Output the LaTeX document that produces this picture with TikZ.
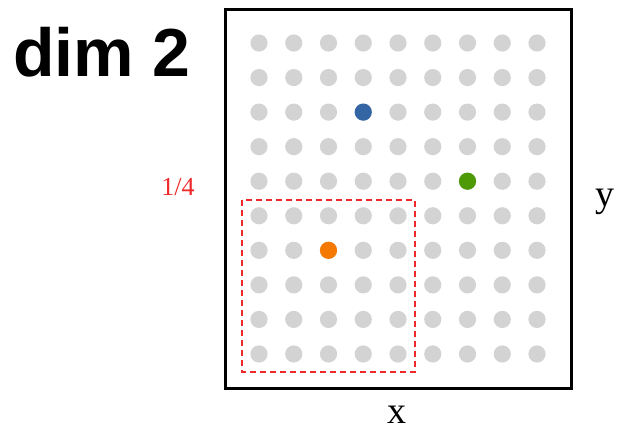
\documentclass[tikz,border=0pt]{standalone}
\usepackage{fontspec}
\setmainfont{Liberation Serif}
\newfontfamily\headfont{Liberation Sans}
\usepackage{xcolor}
\usetikzlibrary{positioning}

\definecolor{dotgray}{HTML}{D3D3D3}
\definecolor{dotblue}{HTML}{3465A4}
\definecolor{dotgreen}{HTML}{4E9A06}
\definecolor{dotorange}{HTML}{F57900}
\definecolor{boxred}{HTML}{EF2929}

\begin{document}
\begin{tikzpicture}[
			x=0.5pt,y=-0.5pt,
			dot/.style={circle,fill=dotgray,inner sep=0pt,minimum size=8.6pt},
			mark dot/.style={dot,fill=#1},
			axis label/.style={font=\fontsize{19}{22}\selectfont}
		]
		\useasboundingbox (0,0) rectangle (625,434);

		% frame and grid
		\draw[line width=1.5pt] (225,9) rectangle (571,388);
		\foreach \i in {0,...,8}
			\foreach \j in {0,...,9}
				\node[dot] (d-\i-\j) at (259+34.75*\i,43+34.55*\j) {};

		% picked points
		\node[mark dot=dotblue] (pblue) at (d-3-2) {};
		\node[mark dot=dotgreen] (pgreen) at (d-6-4) {};
		\node[mark dot=dotorange] (porange) at (d-2-6) {};

		% sub-region
		\draw[boxred,densely dashed,line width=0.6pt] (242,200) rectangle (415,372);

		\node[font=\headfont\bfseries\fontsize{34}{38}\selectfont] (title) at (102,52) {dim 2};
		\node[text=boxred,font=\fontsize{13}{15}\selectfont] (frac) at (178,187) {1/4};
		\node[axis label] (ylab) at (605,202) {y};
		\node[axis label] (xlab) at (397,415) {x};
	\end{tikzpicture}
\end{document}
